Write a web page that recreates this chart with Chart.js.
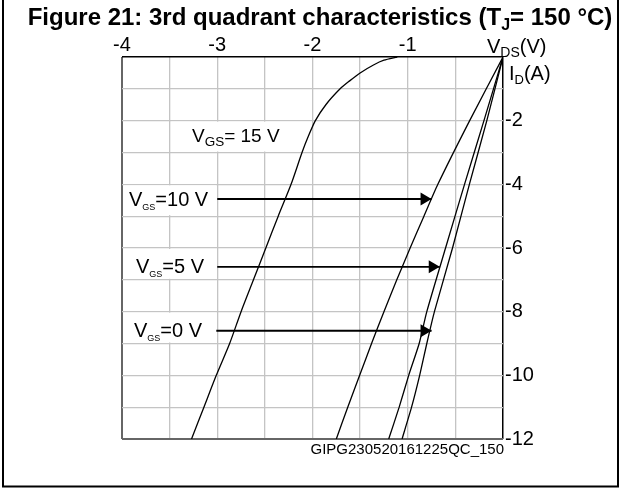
<!DOCTYPE html>
<html>
<head>
<meta charset="utf-8">
<script src="https://cdn.jsdelivr.net/npm/chart.js@4.4.1/dist/chart.umd.min.js"></script>
<style>
  html, body { margin: 0; padding: 0; background: #fff; }
</style>
</head>
<body>
<canvas id="chart" width="621" height="488"></canvas>
<script>
// V_DS (V) and I_D (A), one pair of arrays per curve
const vds15 = [-1.11, -1.25, -1.36, -1.50, -1.61, -1.71, -1.86, -1.97, -2.045, -2.11, -2.225, -2.36, -2.49, -2.62, -2.75, -2.87, -3.01, -3.14, -3.27];
const id15  = [0, -0.1, -0.25, -0.5, -0.75, -1.0, -1.5, -2, -2.5, -3, -4, -5, -6, -7, -8, -9, -10, -11, -12];

const vds10 = [0, -0.35, -0.684, -0.83, -0.975, -1.115, -1.25, -1.38, -1.505, -1.63, -1.75];
const id10  = [0, -2, -4, -5, -6, -7, -8, -9, -10, -11, -12];

const vds5 = [0, -0.2, -0.404, -0.603, -0.80, -0.88, -0.99, -1.09, -1.20];
const id5  = [0, -2, -4, -6, -8, -9, -10, -11, -12];

const vds0 = [0, -0.17, -0.353, -0.53, -0.72, -0.80, -0.875, -0.96, -1.06];
const id0  = [0, -2, -4, -6, -8, -9, -10, -11, -12];

// arrows from the labels to the curves
const arrowId   = [-4.46, -6.59, -8.6];
const arrowFrom = [-3.0, -3.0, -3.01];
const arrowTo   = [-0.75, -0.664, -0.75];

const xTicks = [-4, -3, -2, -1];
const yTicks = [-2, -4, -6, -8, -10, -12];

const FONT = '"Liberation Sans", Arial, Helvetica, sans-serif';

function pts(xs, ys) {
    return xs.map((x, i) => ({ x: x, y: ys[i] }));
}

// text with subscript parts: [[text, isSub], ...]
function richWidth(ctx, parts, size, subSize, bold) {
    let w = 0;
    parts.forEach(([t, sub]) => {
        ctx.font = (bold ? 'bold ' : '') + (sub ? subSize : size) + 'px ' + FONT;
        w += ctx.measureText(t).width;
    });
    return w;
}
function drawRich(ctx, parts, x, y, size, subSize, bold) {
    let cx = x;
    parts.forEach(([t, sub]) => {
        ctx.font = (bold ? 'bold ' : '') + (sub ? subSize : size) + 'px ' + FONT;
        ctx.fillText(t, cx, sub ? y + size * 0.2 : y);
        cx += ctx.measureText(t).width;
    });
}

const curve = (data, tension) => ({
    data: data,
    showLine: true,
    borderColor: '#000',
    borderWidth: 1.3,
    pointRadius: 0,
    tension: tension
});

const datasets = [
    curve(pts(vds15, id15), 0.25),
    curve(pts(vds10, id10), 0.2),
    curve(pts(vds5, id5), 0.2),
    curve(pts(vds0, id0), 0.2)
];
arrowId.forEach((y, i) => {
    datasets.push({
        data: [{ x: arrowFrom[i], y: y }, { x: arrowTo[i], y: y }],
        showLine: true,
        borderColor: '#000',
        borderWidth: 1.8,
        pointRadius: 0
    });
});

// white cells behind the labels (V range, I range)
const labelCells = [
    [-3.5, -2, -2, -3],
    [-4, -3, -4, -5],
    [-4, -3, -6, -7],
    [-4, -3, -8, -9]
];

const decorPlugin = {
    id: 'decor',
    beforeDatasetsDraw(chart) {
        const ctx = chart.ctx;
        const xs = chart.scales.x, ys = chart.scales.y;
        ctx.save();
        ctx.fillStyle = '#fff';
        labelCells.forEach(c => {
            const x0 = xs.getPixelForValue(c[0]) + 1.5;
            const x1 = xs.getPixelForValue(c[1]) - 1;
            const y0 = ys.getPixelForValue(c[2]) + 1;
            const y1 = ys.getPixelForValue(c[3]) - 1;
            ctx.fillRect(x0, y0, x1 - x0, y1 - y0);
        });
        ctx.restore();
    },
    afterDatasetsDraw(chart) {
        const ctx = chart.ctx;
        const xs = chart.scales.x, ys = chart.scales.y;
        ctx.save();
        ctx.fillStyle = '#000';
        // arrow heads
        arrowId.forEach((y, i) => {
            const tx = xs.getPixelForValue(arrowTo[i]);
            const ty = ys.getPixelForValue(y);
            ctx.beginPath();
            ctx.moveTo(tx, ty);
            ctx.lineTo(tx - 11, ty - 6.5);
            ctx.lineTo(tx - 11, ty + 6.5);
            ctx.closePath();
            ctx.fill();
        });

        // curve labels
        ctx.textBaseline = 'alphabetic';
        ctx.textAlign = 'left';
        drawRich(ctx, [['V', false], ['GS', true], ['= 15 V', false]], 192, 142, 19, 13.5, false);
        drawRich(ctx, [['V', false], ['GS', true], ['=10 V', false]], 129, 206, 20, 9, false);
        drawRich(ctx, [['V', false], ['GS', true], ['=5 V', false]], 136, 273, 20, 9, false);
        drawRich(ctx, [['V', false], ['GS', true], ['=0 V', false]], 134, 337, 20, 9, false);

        // axis names
        drawRich(ctx, [['V', false], ['DS', true], ['(V)', false]], 487, 53, 20, 14, false);
        drawRich(ctx, [['I', false], ['D', true], ['(A)', false]], 509, 80, 20, 13, false);

        // figure code
        ctx.font = '15px ' + FONT;
        ctx.textAlign = 'right';
        ctx.fillText('GIPG230520161225QC_150', 504, 454);

        // title
        const title = [['Figure 21: 3rd quadrant characteristics (T', false], ['J', true], ['= 150 °C)', false]];
        const w = richWidth(ctx, title, 24, 16, true);
        ctx.textAlign = 'left';
        drawRich(ctx, title, 320 - w / 2, 25, 24, 16, true);

        // outer frame
        ctx.strokeStyle = '#000';
        ctx.lineWidth = 2;
        ctx.beginPath();
        ctx.moveTo(3, 0);
        ctx.lineTo(3, 486.5);
        ctx.lineTo(618, 486.5);
        ctx.lineTo(618, 0);
        ctx.stroke();
        ctx.restore();
    }
};

const edgeColor = (v, lo, hi) => v === lo ? '#666' : (v === hi ? '#000' : '#c4c4c4');
const edgeWidth = (v, lo, hi) => v === lo ? 2 : (v === hi ? 1.5 : 1.3);

new Chart(document.getElementById('chart'), {
    type: 'scatter',
    data: { datasets: datasets },
    options: {
        responsive: false,
        animation: false,
        devicePixelRatio: 1,
        layout: { padding: { left: 122, top: 0, right: 0, bottom: 49 } },
        plugins: {
            legend: { display: false },
            tooltip: { enabled: false }
        },
        scales: {
            x: {
                type: 'linear',
                position: 'top',
                min: -4,
                max: 0,
                afterFit: s => { s.height = 57; },
                border: { display: false },
                grid: {
                    drawTicks: false,
                    color: c => edgeColor(c.tick.value, -4, 0),
                    lineWidth: c => edgeWidth(c.tick.value, -4, 0)
                },
                ticks: {
                    stepSize: 0.5,
                    padding: 0,
                    color: '#000',
                    font: { family: FONT, size: 20 },
                    maxRotation: 0,
                    autoSkip: false,
                    callback: v => xTicks.includes(v) ? String(v) : ''
                }
            },
            y: {
                type: 'linear',
                position: 'right',
                min: -12,
                max: 0,
                afterFit: s => { s.width = 118; },
                border: { display: false },
                grid: {
                    drawTicks: false,
                    color: c => edgeColor(c.tick.value, -12, 0),
                    lineWidth: c => edgeWidth(c.tick.value, -12, 0)
                },
                ticks: {
                    stepSize: 1,
                    padding: 2,
                    color: '#000',
                    font: { family: FONT, size: 20 },
                    autoSkip: false,
                    callback: v => yTicks.includes(v) ? String(v) : ''
                }
            }
        }
    },
    plugins: [decorPlugin]
});
</script>
</body>
</html>
